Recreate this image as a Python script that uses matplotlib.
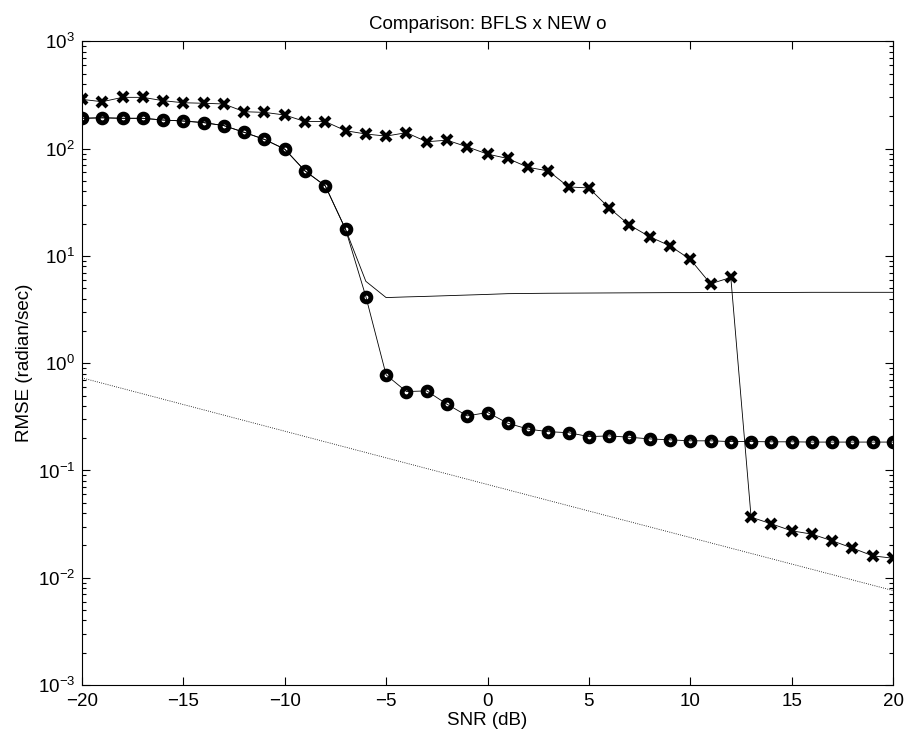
import numpy as np
import matplotlib.pyplot as plt
from matplotlib.ticker import LogLocator, NullFormatter

plt.rcParams['font.family'] = ['Liberation Sans', 'DejaVu Sans']
plt.rcParams['mathtext.fontset'] = 'custom'
plt.rcParams['mathtext.rm'] = 'Liberation Sans'

snr = list(range(-20, 21))

# BFLS (x markers)
bfls = [288, 274, 301, 301, 280, 268, 265, 261, 221, 218, 206, 179, 179,
        147, 137, 131, 141, 116, 120, 104, 89, 81, 67, 62, 44, 43, 28,
        19.4, 15.1, 12.4, 9.3, 5.5, 6.3,
        0.0367, 0.0318, 0.0274, 0.0255, 0.0221, 0.0189, 0.016, 0.0152]

# NEW (o markers)
new = [192, 194, 192, 192, 185, 181, 175, 164, 142, 122, 99, 62, 45,
       17.7, 4.18, 0.778, 0.544, 0.552, 0.415, 0.323, 0.347, 0.276, 0.243,
       0.230, 0.225, 0.207, 0.210, 0.204, 0.197, 0.193, 0.189, 0.189, 0.186,
       0.186, 0.185, 0.185, 0.184, 0.184, 0.184, 0.184, 0.184]

# plain solid line (no markers)
plain = [192, 194, 192, 192, 185, 181, 175, 164, 142, 122, 99, 62, 45,
         17.7, 5.8, 4.09, 4.15, 4.2, 4.26, 4.32, 4.38, 4.45, 4.47, 4.49,
         4.5, 4.51, 4.52, 4.53, 4.54, 4.55, 4.55, 4.56, 4.56, 4.57, 4.57,
         4.57, 4.58, 4.58, 4.58, 4.58, 4.58]

# bound (dotted)
crb_snr = [-20, 0, 20]
crb = [0.73, 0.074, 0.0076]

fig = plt.figure(figsize=(9.08, 7.42), dpi=100)
ax = fig.add_axes([0.0903, 0.0768, 0.8932, 0.8674])

ax.semilogy(snr, plain, '-', color='k', lw=0.6)
ax.semilogy(snr, bfls, '-', color='k', lw=0.6, marker='x', ms=7, mew=3.0)
ax.semilogy(snr, new, '-', color='k', lw=0.6, marker='o', ms=6.3, mew=3.5, mfc='none')
ax.semilogy(crb_snr, crb, ':', color='k', lw=0.6)

ax.set_xlim(-20, 20)
ax.set_ylim(1e-3, 1e3)
ax.set_xticks([-20, -15, -10, -5, 0, 5, 10, 15, 20])
ax.set_xticklabels(['\u221220', '\u221215', '\u221210', '\u22125', '0', '5', '10', '15', '20'])
ax.yaxis.set_major_locator(LogLocator(base=10, numticks=10))
ax.yaxis.set_minor_locator(LogLocator(base=10, subs=np.arange(2, 10), numticks=20))
ax.yaxis.set_minor_formatter(NullFormatter())

ax.tick_params(which='both', direction='in', top=True, right=True, labelsize=13.5)
ax.tick_params(axis='x', pad=6)
ax.tick_params(axis='y', pad=5)
ax.tick_params(which='major', length=6, width=0.8)
ax.tick_params(which='minor', length=3, width=0.8)
for s in ax.spines.values():
    s.set_linewidth(0.8)

ax.set_title('Comparison: BFLS x NEW o', fontsize=13.5, pad=9)
ax.set_xlabel('SNR (dB)', fontsize=13.5, labelpad=1)
ax.set_ylabel('RMSE (radian/sec)', fontsize=13.5, labelpad=3)

fig.savefig('out.png', dpi=100)
